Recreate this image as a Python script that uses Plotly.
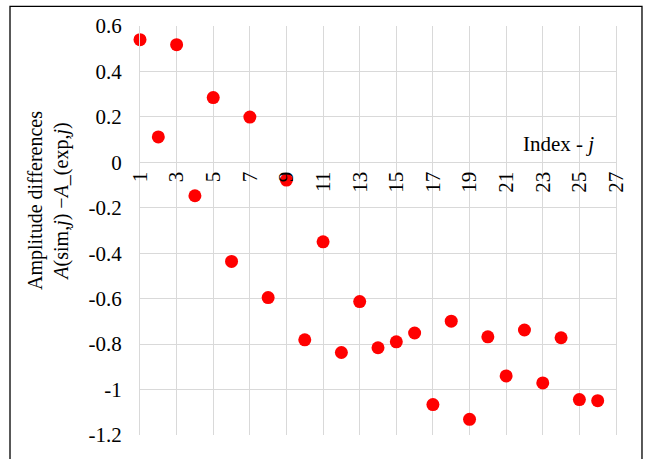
import plotly.graph_objects as go

index_j = list(range(1, 27))
amp_diff = [0.54, 0.112, 0.518, -0.147, 0.285, -0.436, 0.199, -0.595, -0.078, -0.781,
            -0.35, -0.837, -0.613, -0.816, -0.79, -0.751, -1.066, -0.699, -1.131, -0.768,
            -0.94, -0.738, -0.971, -0.772, -1.044, -1.049]

x_ticks = list(range(1, 28, 2))
y_ticks = [0.6, 0.4, 0.2, 0, -0.2, -0.4, -0.6, -0.8, -1.0, -1.2]
y_tick_text = ["0.6", "0.4", "0.2", "0", "-0.2", "-0.4", "-0.6", "-0.8", "-1", "-1.2"]

FONT = "Liberation Serif"
GRID = "#d9d9d9"

fig = go.Figure()
fig.add_trace(go.Scatter(
    x=index_j, y=amp_diff, mode="markers",
    marker=dict(color="#ff0000", size=13, line=dict(width=0)),
    cliponaxis=False, showlegend=False,
))

ymin, ymax = -1.2, 0.6
zero_pos = (0 - ymin) / (ymax - ymin)

fig.update_layout(
    width=646, height=459,
    margin=dict(l=140, r=30, t=26, b=17),
    paper_bgcolor="white", plot_bgcolor="white",
    font=dict(family=FONT, size=20, color="black"),
    xaxis=dict(
        range=[1, 27], tickvals=x_ticks, ticktext=[str(v) for v in x_ticks],
        tickangle=-90, showgrid=True, gridcolor=GRID, gridwidth=1,
        showline=True, linecolor=GRID, linewidth=1,
        anchor="free", position=zero_pos, zeroline=False,
        ticks="", tickfont=dict(family=FONT, size=21),
    ),
    yaxis=dict(
        range=[ymin, ymax], tickvals=y_ticks, ticktext=y_tick_text,
        showgrid=True, gridcolor=GRID, gridwidth=1,
        showline=True, linecolor=GRID, linewidth=1, mirror=True,
        zeroline=False, ticks="", ticklabelstandoff=13,
        tickfont=dict(family=FONT, size=21),
    ),
    shapes=[dict(type="rect", xref="paper", yref="paper",
                 x0=-0.2731, x1=1.0546, y0=-0.1, y1=1.048,
                 line=dict(color="black", width=1.3), fillcolor="rgba(0,0,0,0)",
                 layer="below")],
    annotations=[
        dict(text="Index - <i>j</i>", xref="paper", yref="paper",
             x=0.958, y=0.7115, xanchor="right", yanchor="middle",
             showarrow=False, font=dict(family=FONT, size=21)),
        dict(text="Amplitude differences<br><i>A</i>(sim,<i>j</i>) \u2212<i>A</i>_(exp,<i>j</i>)",
             xref="paper", yref="paper", x=(48 - 140) / 476, y=(442 - 204) / 416,
             xanchor="center", yanchor="middle", textangle=-90, showarrow=False,
             font=dict(family=FONT, size=20)),
    ],
)

fig.write_html("out.html")
